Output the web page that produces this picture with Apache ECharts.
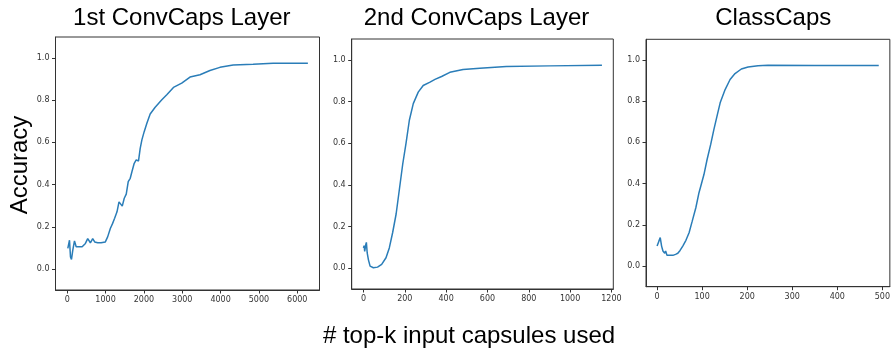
<!DOCTYPE html>
<html>
<head>
<meta charset="utf-8">
<script src="https://cdn.jsdelivr.net/npm/echarts@6/dist/echarts.min.js"></script>
<style>
  html, body { margin: 0; padding: 0; background: #fff; }
  #chart { width: 893px; height: 352px; }
</style>
</head>
<body>
<div id="chart"></div>
<script>
// panel titles
const panelTitles = ['1st ConvCaps Layer', '2nd ConvCaps Layer', 'ClassCaps'];

// 1st ConvCaps Layer: k vs accuracy
const conv1K = [16, 60, 86, 112, 146, 190, 234, 302, 390, 475, 535, 605, 665, 717, 795, 883, 995,
  1055, 1125, 1185, 1237, 1299, 1351, 1385, 1436, 1488, 1540, 1592, 1644, 1688, 1748, 1800, 1860,
  1904, 1948, 2008, 2078, 2164, 2294, 2468, 2597, 2771, 2987, 3203, 3463, 3723, 3983, 4329, 4848,
  5368, 6277];
const conv1Acc = [0.097, 0.136, 0.057, 0.045, 0.089, 0.133, 0.105, 0.105, 0.105, 0.121, 0.144, 0.124,
  0.144, 0.128, 0.124, 0.124, 0.128, 0.152, 0.192, 0.216, 0.240, 0.271, 0.318, 0.327, 0.298, 0.335,
  0.355, 0.414, 0.430, 0.461, 0.501, 0.517, 0.512, 0.572, 0.612, 0.651, 0.691, 0.735, 0.767, 0.802,
  0.826, 0.861, 0.881, 0.910, 0.921, 0.941, 0.956, 0.967, 0.971, 0.976, 0.976];

// 2nd ConvCaps Layer
const conv2K = [0, 3, 6, 11, 14, 18, 24, 32, 48, 68, 88, 109, 125, 141, 158, 174, 190, 206, 222,
  241, 265, 289, 322, 346, 378, 418, 482, 563, 691, 900, 1154];
const conv2Acc = [0.097, 0.108, 0.080, 0.113, 0.124, 0.073, 0.040, 0.010, 0.002, 0.005, 0.018,
  0.050, 0.097, 0.170, 0.260, 0.380, 0.500, 0.600, 0.710, 0.790, 0.845, 0.877, 0.893, 0.906,
  0.920, 0.940, 0.954, 0.960, 0.968, 0.971, 0.974];

// ClassCaps
const classK = [0, 4, 7, 10, 13, 17, 19, 22, 25, 29, 35, 41, 46, 51, 57, 64, 71, 78, 86, 93, 98,
  104, 111, 119, 126, 133, 140, 151, 162, 173, 187, 202, 224, 246, 350, 492];
const classAcc = [0.097, 0.121, 0.138, 0.097, 0.073, 0.062, 0.073, 0.052, 0.046, 0.052, 0.052,
  0.057, 0.062, 0.076, 0.097, 0.125, 0.162, 0.218, 0.283, 0.356, 0.396, 0.444, 0.517, 0.590,
  0.662, 0.727, 0.792, 0.856, 0.905, 0.934, 0.956, 0.966, 0.972, 0.974, 0.973, 0.973];

// tick labels
const xTicks = [
  [0, 1000, 2000, 3000, 4000, 5000, 6000],
  [0, 200, 400, 600, 800, 1000, 1200],
  [0, 100, 200, 300, 400, 500]
];
const yTicks = [0, 0.2, 0.4, 0.6, 0.8, 1.0];

const xRanges = [[-305, 6580], [-57, 1209], [-24.6, 516.6]];
const grids = [
  { left: 55.5, top: 37, width: 264, height: 253 },
  { left: 351.7, top: 39, width: 261.6, height: 250 },
  { left: 646, top: 39.3, width: 248.5, height: 247.4 }
];
const titleX = [181.8, 476.5, 773.3];

const lineColor = '#2a7db8';
const tickFont = { fontFamily: 'DejaVu Sans', fontSize: 8, color: '#333' };

function pairs(xs, ys) {
  return xs.map(function (x, i) { return [x, ys[i]]; });
}
const seriesData = [pairs(conv1K, conv1Acc), pairs(conv2K, conv2Acc), pairs(classK, classAcc)];

var chart = echarts.init(document.getElementById('chart'), null, { renderer: 'canvas' });

var option = {
  animation: false,
  grid: grids.map(function (g) {
    return Object.assign({ show: true, borderColor: '#333', borderWidth: 1, backgroundColor: 'transparent' }, g);
  }),
  xAxis: grids.map(function (g, i) {
    return {
      type: 'value',
      gridIndex: i,
      position: 'bottom',
      min: xRanges[i][0],
      max: xRanges[i][1],
      splitLine: { show: false },
      axisLine: { show: true, onZero: false, lineStyle: { color: '#333', width: 1 } },
      axisTick: { show: true, inside: false, length: 3.5, lineStyle: { color: '#333' }, customValues: xTicks[i] },
      axisLabel: Object.assign({ margin: 6, customValues: xTicks[i], formatter: function (v) { return String(v); } }, tickFont)
    };
  }),
  yAxis: grids.map(function (g, i) {
    return {
      type: 'value',
      gridIndex: i,
      position: 'left',
      min: -0.1,
      max: 1.1,
      splitLine: { show: false },
      axisLine: { show: true, onZero: false, lineStyle: { color: '#333', width: 1 } },
      axisTick: { show: true, inside: false, length: 3.5, lineStyle: { color: '#333' }, customValues: yTicks },
      axisLabel: Object.assign({ margin: 6, customValues: yTicks, formatter: function (v) { return v.toFixed(1); } }, tickFont)
    };
  }),
  series: seriesData.map(function (d, i) {
    return {
      type: 'line',
      xAxisIndex: i,
      yAxisIndex: i,
      data: d,
      showSymbol: false,
      lineStyle: { color: lineColor, width: 1.5 },
      silent: true
    };
  }),
  graphic: panelTitles.map(function (t, i) {
    return {
      type: 'text',
      x: titleX[i],
      y: 18,
      style: { text: t, fontFamily: 'Liberation Sans', fontSize: 24, fill: '#000', align: 'center', verticalAlign: 'middle' }
    };
  }).concat([
    {
      type: 'text',
      x: 20,
      y: 165,
      rotation: Math.PI / 2,
      style: { text: 'Accuracy', fontFamily: 'Liberation Sans', fontSize: 24, fill: '#000', align: 'center', verticalAlign: 'middle' }
    },
    {
      type: 'text',
      x: 469,
      y: 336,
      style: { text: '# top-k input capsules used', fontFamily: 'Liberation Sans', fontSize: 24, fill: '#000', align: 'center', verticalAlign: 'middle' }
    }
  ])
};

chart.setOption(option);
</script>
</body>
</html>
